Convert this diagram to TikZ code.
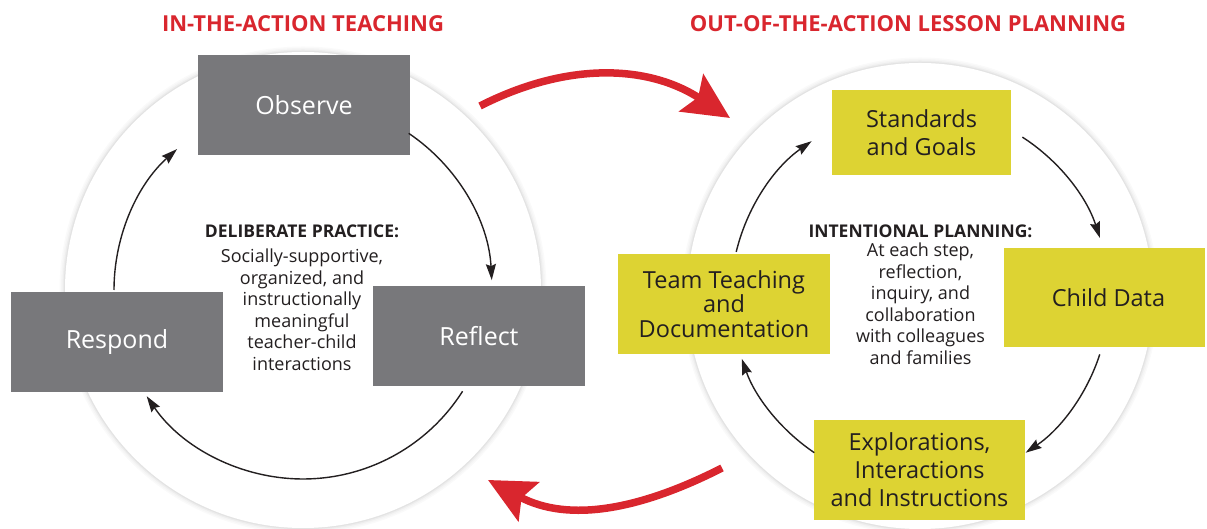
\documentclass[tikz,border=0pt]{standalone}
\usepackage{fontspec}
\setmainfont{Open Sans}
\usepackage{tikz}
\usetikzlibrary{positioning, arrows.meta}
\definecolor{boxgray}{RGB}{120,120,123}
\definecolor{boxyellow}{RGB}{221,211,51}
\definecolor{headred}{RGB}{217,38,46}
\definecolor{txtdark}{RGB}{35,31,32}

\begin{document}
\begin{tikzpicture}[x=1pt, y=1pt]
\tikzstyle{act_box}=[rectangle, fill=boxgray, text=white, minimum width=212pt, minimum height=100pt, inner sep=0, align=center, font=\fontsize{25}{28}\selectfont]
\tikzstyle{plan_box}=[rectangle, fill=boxyellow, text=txtdark, inner sep=0, align=center, font=\fontsize{23.5}{28}\selectfont]
\tikzstyle{title_text}=[text=headred, font=\fontsize{22}{26}\selectfont\bfseries]
\tikzstyle{mid_head}=[text=txtdark, inner sep=0, font=\fontsize{17.5}{21}\selectfont\bfseries]
\tikzstyle{mid_text}=[text=txtdark, inner sep=0, align=center, font=\fontsize{18}{21.6}\selectfont]
\tikzstyle{cyc}=[-{Stealth[length=16pt, width=10pt, inset=2pt]}, line width=1.4pt, txtdark]
\tikzstyle{big_arrow}=[-{Stealth[length=46pt, width=44pt, inset=8pt]}, line width=7.5pt, headred]

\useasboundingbox (0,0) rectangle (1207,529);

\coordinate (lc) at (303,239);
\coordinate (rc) at (920,233);
%soft rings
\foreach \w/\c in {11/2, 8/4, 5/7, 2.5/11} {
  \draw [black!\c, line width=\w pt] (lc) circle[radius=238];
  \draw [black!\c, line width=\w pt] (rc) circle[radius=233];
}
\fill [white] (lc) circle[radius=238];
\fill [white] (rc) circle[radius=233];

%switch arrows
\coordinate (top_tail) at (480,423);
\coordinate (top_tip) at (730,411);
\coordinate (bot_tail) at (722,61);
\coordinate (bot_tip) at (488,49);
\path [big_arrow] (top_tail) edge[out=27, in=147] (top_tip);
\path [big_arrow] (bot_tail) edge[out=207, in=-28] (bot_tip);

\node[title_text] (title_in) at (303,505) {IN-THE-ACTION TEACHING};
\node[title_text] (title_out) at (908,505) {OUT-OF-THE-ACTION LESSON PLANNING};

\node[act_box] (observe) at (304,423.5) {Observe};
\node[act_box] (reflect) at (479,193) {Reflect};
\node[act_box] (respond) at (117,187) {Respond};

\node[plan_box, minimum width=179pt, minimum height=85pt] (standards) at (921.5,396.5) {Standards\\and Goals};
\node[plan_box, minimum width=201pt, minimum height=99pt] (childdata) at (1104.5,231.5) {\hspace{8pt}Child Data};
\node[plan_box, minimum width=211pt, minimum height=100pt] (explor) at (919.5,59) {Explorations,\\Interactions\\and Instructions};
\node[plan_box, minimum width=212pt, minimum height=100pt, font=\fontsize{23.5}{24.5}\selectfont] (teamteach) at (724,225) {Team Teaching\\and\\Documentation};

\node[mid_head] (dp_head) at (302,298) {DELIBERATE PRACTICE:};
\node[mid_text, below=11pt of dp_head] (dp_text) {Socially-supportive,\\organized, and\\instructionally\\meaningful\\teacher-child\\interactions};
\node[mid_head] (ip_head) at (920.5,298) {INTENTIONAL PLANNING:};
\node[mid_text, below=5pt of ip_head] (ip_text) {At each step,\\reflection,\\inquiry, and\\collaboration\\with colleagues\\and families};

%cycle arrows
\draw [cyc] ([shift={(56:189)}]lc) arc[start angle=56, end angle=3, radius=189];
\draw [cyc] ([shift={(-32.4:189)}]lc) arc[start angle=-32.4, end angle=-145.8, radius=189];
\draw [cyc] ([shift={(180:189)}]lc) arc[start angle=180, end angle=131.8, radius=189];
\draw [cyc] ([shift={(57.2:189)}]rc) arc[start angle=57.2, end angle=17.9, radius=189];
\draw [cyc] ([shift={(-18:189)}]rc) arc[start angle=-18, end angle=-56, radius=189];
\draw [cyc] ([shift={(236:189)}]rc) arc[start angle=236, end angle=199.4, radius=189];
\draw [cyc] ([shift={(166.5:189)}]rc) arc[start angle=166.5, end angle=125, radius=189];

\end{tikzpicture}
\end{document}
